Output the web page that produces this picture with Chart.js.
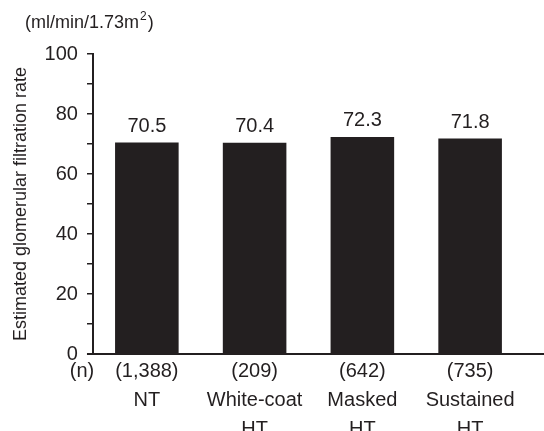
<!DOCTYPE html>
<html>
<head>
<meta charset="utf-8">
<script src="https://cdn.jsdelivr.net/npm/chart.js@4"></script>
<style>
  html, body { margin: 0; padding: 0; background: #fff; }
  #wrap { width: 544px; height: 431px; position: relative; }
</style>
</head>
<body>
<div id="wrap"><canvas id="myChart"></canvas></div>
<script>
// data
const groups = ['NT', 'White-coat HT', 'Masked HT', 'Sustained HT'];
const counts = ['(1,388)', '(209)', '(642)', '(735)'];
const groupLines = [['NT'], ['White-coat', 'HT'], ['Masked', 'HT'], ['Sustained', 'HT']];
const egfr = [70.5, 70.4, 72.3, 71.8];
const yTicks = [0, 20, 40, 60, 80, 100];

const FONT = 'Liberation Sans, Arial, sans-serif';
const INK = '#231f20';

// value labels, baseline, unit and (n)
const extras = {
    id: 'extras',
    afterDatasetsDraw(chart) {
        const ctx = chart.ctx;
        const meta = chart.getDatasetMeta(0);
        const area = chart.chartArea;
        ctx.save();
        // baseline runs to the right edge
        ctx.strokeStyle = INK;
        ctx.lineWidth = 2;
        ctx.beginPath();
        ctx.moveTo(area.left - 6, area.bottom);
        ctx.lineTo(chart.width, area.bottom);
        ctx.stroke();

        ctx.fillStyle = INK;
        ctx.font = '20px ' + FONT;
        ctx.textAlign = 'center';
        ctx.textBaseline = 'alphabetic';
        meta.data.forEach(function(bar, i) {
            ctx.fillText(egfr[i].toFixed(1), bar.x, bar.y - 11);
        });
        // (n)
        ctx.textBaseline = 'middle';
        ctx.fillText('(n)', 82, area.bottom + 17);
        // unit
        ctx.textAlign = 'left';
        ctx.textBaseline = 'alphabetic';
        ctx.font = '18px ' + FONT;
        let s = '(ml/min/1.73m';
        ctx.fillText(s, 25, 28);
        let w = ctx.measureText(s).width;
        ctx.font = '12px ' + FONT;
        ctx.fillText('2', 25 + w + 1, 20);
        let w2 = ctx.measureText('2').width;
        ctx.font = '18px ' + FONT;
        ctx.fillText(')', 25 + w + w2 + 2, 28);
        ctx.restore();
    }
};

let data = {
    labels: groups.map(function(g, i) { return [counts[i]].concat(groupLines[i]); }),
    datasets: [{
        data: egfr,
        backgroundColor: INK,
        borderWidth: 0,
        barPercentage: 0.59,
        categoryPercentage: 1.0
    }]
};

let config = {
    type: 'bar',
    data,
    options: {
        responsive: true,
        maintainAspectRatio: false,
        animation: false,
        layout: { padding: { top: 54, right: 20, left: 0, bottom: 0 } },
        plugins: {
            legend: { display: false },
            tooltip: { enabled: false }
        },
        scales: {
            x: {
                grid: { display: false, drawTicks: false },
                border: { display: false },
                afterFit: function(scale) { scale.height = 77; },
                ticks: {
                    color: INK,
                    font: { family: FONT, size: 20, lineHeight: 1.45 },
                    padding: 3,
                    maxRotation: 0,
                    autoSkip: false
                }
            },
            y: {
                min: 0,
                max: 100,
                afterBuildTicks: function(axis) {
                    let t = [];
                    for (let v = 0; v <= 100; v += 10) t.push({ value: v });
                    axis.ticks = t;
                },
                grid: {
                    drawOnChartArea: false,
                    drawTicks: true,
                    tickLength: 6,
                    color: INK,
                    lineWidth: 1.5
                },
                border: { display: true, color: INK, width: 2 },
                ticks: {
                    color: INK,
                    font: { family: FONT, size: 20 },
                    padding: 9,
                    callback: function(v) { return yTicks.includes(v) ? String(v) : ''; }
                },
                title: {
                    display: true,
                    text: 'Estimated glomerular filtration rate',
                    color: INK,
                    font: { family: FONT, size: 18 },
                    padding: { top: 10, bottom: 4 }
                }
            }
        }
    },
    plugins: [extras]
};

let myChart = new Chart(document.getElementById('myChart'), config);
</script>
</body>
</html>
